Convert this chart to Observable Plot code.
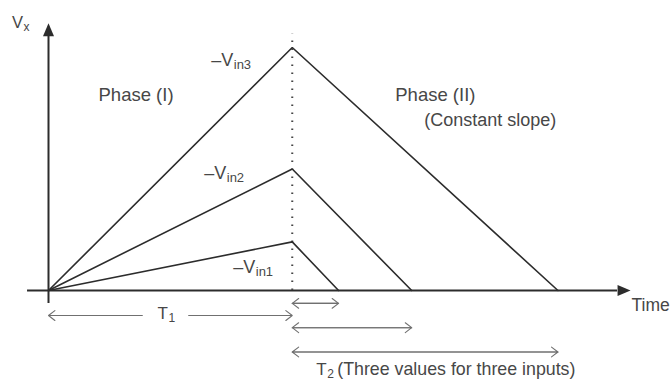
<!DOCTYPE html>
<html>
<head>
<meta charset="utf-8">
<script src="https://cdn.jsdelivr.net/npm/d3@7"></script>
<script src="https://cdn.jsdelivr.net/npm/@observablehq/plot@0.6"></script>
<style>
  html, body { margin: 0; padding: 0; background: #fff; }
  #chart svg { display: block; }
</style>
</head>
<body>
<div id="chart"></div>
<script>
// Dual-slope integration: integrator output Vx against time for three inputs.
const inputs = ["in1", "in2", "in3"];
const vin = [2, 5, 10];          // integrator output reached at the end of phase I (−Vin)
const T1 = 10;                   // fixed run-up time
const T2 = [1.9, 4.9, 10.9];     // run-down times in phase II, one per input
const phaseLabels = ["Phase (I)", "Phase (II)", "(Constant slope)"];
const t2Caption = "(Three values for three inputs)";
const timeLabel = "Time";

// Each waveform: ramp up for T1, then ramp down to zero after T2.
const waveform = inputs.flatMap((name, i) => [
  {name, t: 0, v: 0},
  {name, t: T1, v: vin[i]},
  {name, t: T1 + T2[i], v: 0}
]);
const peaks = inputs.map((name, i) => ({name, t: T1, v: vin[i]}));

// Extent of the hand-drawn axes, in data units.
const tStart = -0.86, tTip = 23.88;
const vStart = -0.53, vTip = 11;
const headLen = 13 / 24.3;

const ink = "#2c2c2c", textInk = "#474747", guide = "#707070";
const font = "'Liberation Sans', Arial, Helvetica, sans-serif";

// Filled arrowheads for the axes, anchored at their tips.
const headUp = {draw(ctx) { ctx.moveTo(0, 0); ctx.lineTo(-5.5, 13); ctx.lineTo(5.5, 13); ctx.closePath(); }};
const headRight = {draw(ctx) { ctx.moveTo(0, 0); ctx.lineTo(-13, -5.5); ctx.lineTo(-13, 5.5); ctx.closePath(); }};

// Text with a subscript: main part ends at the anchor, subscript starts there.
function subscripted(data, {x, y, dx = 0, dy = 0, main, sub, size = 18, subSize = 13, drop = 3}) {
  return [
    Plot.text(data, {x, y, dx, dy, text: () => main, textAnchor: "end", lineAnchor: "bottom",
      fontSize: size, fill: textInk, fontFamily: font}),
    Plot.text(data, {x, y, dx: dx + 0.5, dy: dy + drop, text: () => sub, textAnchor: "start", lineAnchor: "bottom",
      fontSize: subSize, fill: textInk, fontFamily: font})
  ];
}

// Dimension rows under the time axis.
const t2Rows = inputs.map((name, i) => ({name, a: T1, b: T1 + T2[i], row: vStart - i}));
const t1Row = vStart - 0.5;
const t1Parts = [
  {from: T1 * 0.385, to: 0, row: t1Row},
  {from: T1 * 0.575, to: T1, row: t1Row}
];

const arrowStyle = {stroke: guide, strokeWidth: 1.1, headLength: 11, headAngle: 75};

const vinLabelOffsets = [
  {dx: -37, dy: 31.5},
  {dx: -66, dy: 9.5},
  {dx: -59, dy: 18}
];

const chart = Plot.plot({
  width: 671,
  height: 381,
  x: {domain: [0, 24], range: [48, 633], axis: null},
  y: {domain: [0, 10], range: [290, 47], axis: null},
  style: {background: "#fff", fontFamily: font, overflow: "visible"},
  marks: [
    // axes
    Plot.ruleY([0], {x1: tStart, x2: tTip - headLen, stroke: ink, strokeWidth: 2}),
    Plot.ruleX([0], {y1: vStart, y2: vTip - headLen, stroke: ink, strokeWidth: 2}),
    Plot.dot([{t: tTip, v: 0}], {x: "t", y: "v", symbol: headRight, r: 5, fill: ink, stroke: "none"}),
    Plot.dot([{t: 0, v: vTip}], {x: "t", y: "v", symbol: headUp, r: 5, fill: ink, stroke: "none"}),

    // end of phase I
    Plot.ruleX([T1], {y1: 0, y2: vTip - 0.45, stroke: "#444", strokeWidth: 2, strokeDasharray: "1.6,6.4"}),

    // integrator output
    Plot.line(waveform, {x: "t", y: "v", z: "name", stroke: ink, strokeWidth: 1.6, strokeLinejoin: "miter"}),

    // T1 dimension
    Plot.arrow(t1Parts, {x1: "from", x2: "to", y1: "row", y2: "row", ...arrowStyle}),
    // T2 dimensions (double-headed)
    Plot.arrow(t2Rows, {x1: "a", x2: "b", y1: "row", y2: "row", ...arrowStyle}),
    Plot.arrow(t2Rows, {x1: "b", x2: "a", y1: "row", y2: "row", ...arrowStyle}),

    // labels
    ...subscripted([{t: 0, v: vTip}], {x: "t", y: "v", dx: -25.5, dy: 5, main: "V", sub: "x", size: 16.5, subSize: 12, drop: 3}),
    ...inputs.flatMap((name, i) => subscripted([peaks[i]], {x: "t", y: "v", ...vinLabelOffsets[i], main: "\u2013V", sub: name})),
    ...subscripted([{t: T1 / 2, v: t1Row}], {x: "t", y: "v", dx: -2.5, dy: 3, main: "T", sub: "1", size: 17, subSize: 12}),
    ...subscripted([{t: T1, v: vStart - 2}], {x: "t", y: "v", dx: 34.5, dy: 23, main: "T", sub: "2", size: 17, subSize: 12}),
    Plot.text([{t: T1, v: vStart - 2}], {x: "t", y: "v", dx: 45, dy: 23, text: () => t2Caption,
      textAnchor: "start", lineAnchor: "bottom", fontSize: 17.8, fill: textInk, fontFamily: font}),
    Plot.text([{t: tTip, v: 0}], {x: "t", y: "v", dx: 1, dy: 20, text: () => timeLabel,
      textAnchor: "start", lineAnchor: "bottom", fontSize: 17.5, fill: textInk, fontFamily: font}),
    Plot.text([{t: 0, v: 0}], {x: "t", y: "v", dx: 50, dy: -190, text: () => phaseLabels[0],
      textAnchor: "start", lineAnchor: "bottom", fontSize: 18.5, fill: textInk, fontFamily: font}),
    Plot.text([{t: T1, v: 0}], {x: "t", y: "v", dx: 103, dy: -190, text: () => phaseLabels[1],
      textAnchor: "start", lineAnchor: "bottom", fontSize: 18.5, fill: textInk, fontFamily: font}),
    Plot.text([{t: T1, v: 0}], {x: "t", y: "v", dx: 132, dy: -165, text: () => phaseLabels[2],
      textAnchor: "start", lineAnchor: "bottom", fontSize: 18, fill: textInk, fontFamily: font})
  ]
});

document.getElementById("chart").append(chart);
</script>
</body>
</html>
